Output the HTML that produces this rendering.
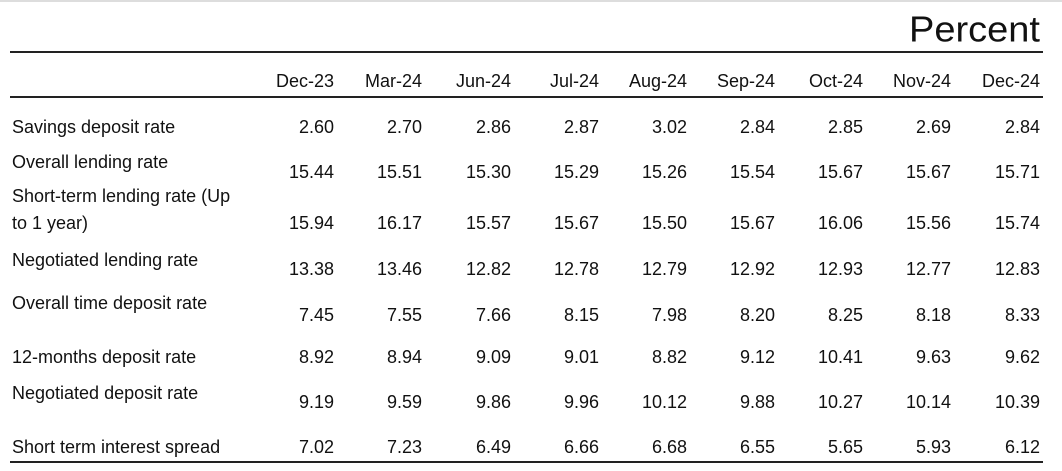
<!DOCTYPE html>
<html><head><style>
body{margin:0;width:1062px;height:471px;background:#fff;position:relative;overflow:hidden;font-family:"Liberation Sans",Arial,sans-serif;color:#111}
.t{position:absolute;font-size:18px;line-height:20px;white-space:nowrap}
.r{text-align:right;width:80px}
.line{position:absolute;left:10px;width:1033px;background:#222}
</style></head><body>
<div style="position:absolute;left:0;top:0;width:1062px;height:2px;background:#ddd"></div>
<div class="t" style="right:22px;top:8px;font-size:38px;line-height:44px;transform:scaleY(0.95)">Percent</div>
<div class="line" style="top:51px;height:2px"></div>
<div class="line" style="top:96px;height:2px"></div>
<div class="line" style="top:461px;height:2px"></div>
<div id="c"></div>
<script>
var rights=[334,422,511,599,687,775,863,951,1040];
var hdr=["Dec-23","Mar-24","Jun-24","Jul-24","Aug-24","Sep-24","Oct-24","Nov-24","Dec-24"];
var rows=[
[["Savings deposit rate"],127,127,["2.60","2.70","2.86","2.87","3.02","2.84","2.85","2.69","2.84"]],
[["Overall lending rate"],162,172,["15.44","15.51","15.30","15.29","15.26","15.54","15.67","15.67","15.71"]],
[["Short-term lending  rate (Up","to 1 year)"],196,223,["15.94","16.17","15.57","15.67","15.50","15.67","16.06","15.56","15.74"]],
[["Negotiated lending rate"],260,269,["13.38","13.46","12.82","12.78","12.79","12.92","12.93","12.77","12.83"]],
[["Overall time deposit rate"],303,315,["7.45","7.55","7.66","8.15","7.98","8.20","8.25","8.18","8.33"]],
[["12-months deposit rate"],357,357,["8.92","8.94","9.09","9.01","8.82","9.12","10.41","9.63","9.62"]],
[["Negotiated deposit rate"],393,402,["9.19","9.59","9.86","9.96","10.12","9.88","10.27","10.14","10.39"]],
[["Short term interest spread"],447,447,["7.02","7.23","6.49","6.66","6.68","6.55","5.65","5.93","6.12"]]];
var h="";
hdr.forEach(function(s,i){h+='<div class="t r" style="left:'+(rights[i]-80)+'px;top:71px">'+s+'</div>';});
rows.forEach(function(r){
 r[0].forEach(function(l,j){h+='<div class="t" style="left:12px;top:'+(r[1]-10+j*27)+'px">'+l+'</div>';});
 r[3].forEach(function(v,i){h+='<div class="t r" style="left:'+(rights[i]-80)+'px;top:'+(r[2]-10)+'px">'+v+'</div>';});
});
document.getElementById("c").innerHTML=h;
</script>
</body></html>
